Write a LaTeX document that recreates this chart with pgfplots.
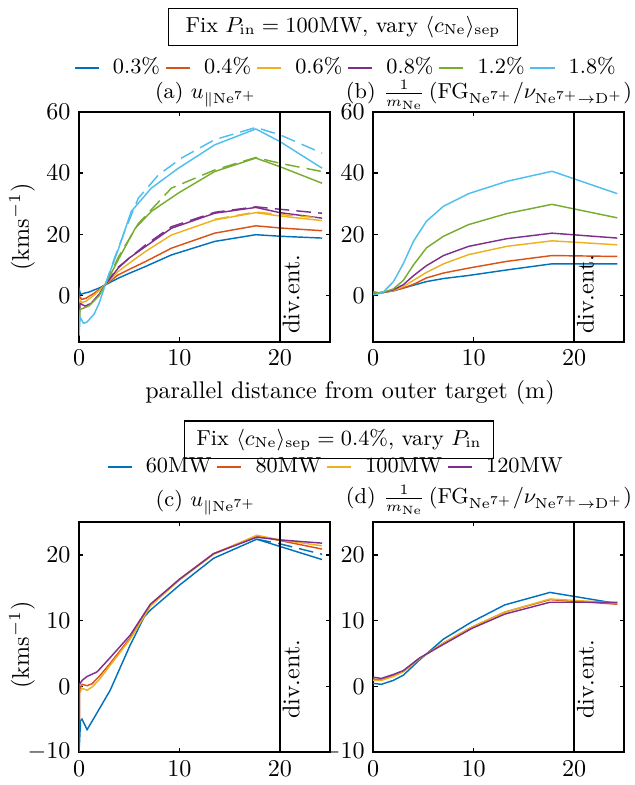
\documentclass[border=0pt]{standalone}
\usepackage{amsmath}
\usepackage{pgfplots}
\pgfplotsset{compat=1.18}
\definecolor{mB}{rgb}{0,0.447,0.741}
\definecolor{mR}{rgb}{0.85,0.325,0.098}
\definecolor{mY}{rgb}{0.929,0.694,0.125}
\definecolor{mP}{rgb}{0.494,0.184,0.556}
\definecolor{mG}{rgb}{0.466,0.674,0.188}
\definecolor{mC}{rgb}{0.301,0.745,0.933}
\pgfplotsset{
  myax/.style={
    scale only axis, width=104.2pt, height=95.4pt,
    xmin=0, xmax=25, xtick={0,10,20},
    axis line style={line width=0.7pt},
    tick style={line width=0.6pt, black},
    major tick length=1.8pt, tick align=inside,
    every axis plot/.append style={line width=0.6pt},
    legend image code/.code={\draw[#1,line width=0.8pt] (0pt,0pt) -- (10pt,0pt);},
  },
  topax/.style={myax, ymin=-15, ymax=60, ytick={0,20,40,60}},
  botax/.style={myax, ymin=-10, ymax=25, ytick={-10,0,10,20}},
  dl/.style={dash pattern=on 6pt off 3pt, forget plot},
}
\begin{document}
\begin{tikzpicture}
\useasboundingbox (0,0) rectangle (263.5pt,-325.8pt);
% (a)
\begin{axis}[topax, at={(32.8pt,-141.8pt)}, anchor=south west,
  legend columns=6,
  legend style={draw=none, fill=none, font=\small, at={(1.068,1.192)}, anchor=center,
    /tikz/every odd column/.append style={column sep=3.5pt}}]
\addplot[mB] coordinates {(0,-11.5)(0.04,1.8)(0.15,0.4)(0.5,0.8)(1,1.2)(2,2.5)(2.6,3.5)(3.9,5.7)(5,7.3)(6.6,9.5)(9.2,13.3)(13.5,17.7)(17.6,19.9)(20,19.4)(24.2,18.8)};
\addplot[mR] coordinates {(0,-10)(0.04,-0.3)(0.3,-1.2)(0.7,-0.8)(1.5,0.8)(2.6,3.5)(3.9,6.8)(5,8.6)(6.6,11.1)(9.2,15.5)(13.5,20.4)(17.6,22.8)(20,22.1)(24.2,21.2)};
\addplot[mY] coordinates {(0,-9)(0.04,-1.3)(0.3,-2.2)(0.7,-1.8)(1.5,0.2)(2.6,3.5)(3.9,7.9)(5,10.6)(6.6,14.4)(9.2,19.8)(13.5,24.7)(17.6,27.1)(20,26.0)(24.2,24.5)};
\addplot[mP] coordinates {(0,-8)(0.1,-2.5)(0.6,-3.4)(1.2,-2.5)(2,0.5)(2.6,3.5)(3.9,9)(5,12.3)(6.6,16)(9.2,22)(13.5,26.9)(17.6,28.8)(20,27.1)(24.2,25.3)};
\addplot[mG] coordinates {(0,-12)(0.1,-4.5)(0.5,-4)(1,-3.3)(2,0)(2.6,3.5)(3.9,11.7)(5.6,22)(7.2,27.5)(9.9,33.5)(13.5,40.5)(17.6,44.9)(20,42.1)(24.2,36.7)};
\addplot[mC] coordinates {(0,-13)(0.1,-7)(0.45,-9.0)(0.8,-8.6)(1.5,-6)(2,-2.5)(2.6,3.5)(3.9,15)(5.2,27.5)(7.2,35.1)(9.9,41.6)(13.5,49.2)(17.6,54.4)(20,50.3)(24.2,41.6)};
\addplot[mY,dl] coordinates {(13.5,24.9)(17.6,27.3)(20,26.5)(24.2,25.3)};
\addplot[mP,dl] coordinates {(2.6,3.5)(3.9,9.3)(6.6,16.5)(9.2,22.5)(13.5,27.2)(17.6,29.0)(20,28.2)(24.2,26.9)};
\addplot[mG,dl] coordinates {(2.6,3.5)(3.9,12.5)(5.9,23.5)(9.2,35.1)(13.5,41)(17.6,45.1)(20,43.2)(24.2,40.5)};
\addplot[mC,dl] coordinates {(2.6,3.5)(3.5,12)(4.6,21.5)(5.9,31.8)(7.9,39.4)(10.2,44.9)(13.5,50.9)(17.6,54.9)(20,52.5)(24.2,46.5)};
\addplot[black, line width=0.8pt, forget plot] coordinates {(20,-15)(20,60)};
\node[rotate=90, anchor=north west, inner sep=1pt] at (axis cs:20,-13.4) {div.ent.};
\legend{0.3\%,0.4\%,0.6\%,0.8\%,1.2\%,1.8\%}
\end{axis}
% (b)
\begin{axis}[topax, at={(154.9pt,-141.8pt)}, anchor=south west]
\addplot[mB] coordinates {(0,0.5)(0.5,0.8)(1,1.0)(2,1.6)(3,2.5)(4,3.4)(5.3,4.6)(7,5.6)(9.5,6.6)(13.3,8.4)(17.8,10.4)(24.3,10.4)};
\addplot[mR] coordinates {(0,0.8)(0.5,0.9)(1,1.1)(2,1.6)(3,2.5)(4,3.7)(5.3,5.8)(7,7.4)(9.5,9.0)(13.3,11.2)(17.8,13.1)(24.3,12.8)};
\addplot[mY] coordinates {(0,1.0)(0.5,0.9)(1,1.1)(2,1.7)(3,3.0)(4,5.0)(5.3,7.6)(7,10.4)(9.5,13.4)(13.3,16.1)(17.8,17.9)(24.3,16.6)};
\addplot[mP] coordinates {(0,1.1)(0.5,0.9)(1,1.1)(2,1.9)(3,3.6)(4,6.5)(5.3,9.8)(7,13.1)(9.5,16.1)(13.3,18.6)(17.8,20.4)(24.3,18.8)};
\addplot[mG] coordinates {(0,1.3)(0.5,1.0)(1,1.1)(2,2.2)(3,5)(4,10)(5.3,15.6)(7,19.4)(9.5,23.2)(13.3,26.8)(17.8,29.8)(24.3,25.4)};
\addplot[mC] coordinates {(0,0.3)(0.5,0.6)(1,1.2)(2,4.5)(3,10.5)(4,17.7)(5.3,24.3)(7,29.2)(9.5,33.3)(13.3,37.3)(17.8,40.6)(24.3,33.3)};
\addplot[black, line width=0.8pt, forget plot] coordinates {(20,-15)(20,60)};
\node[rotate=90, anchor=north west, inner sep=1pt] at (axis cs:20,-13.4) {div.ent.};
\end{axis}
% (c)
\begin{axis}[botax, at={(32.8pt,-312.1pt)}, anchor=south west,
  legend columns=4,
  legend style={draw=none, fill=none, font=\small, at={(1.028,1.239)}, anchor=center,
    /tikz/every odd column/.append style={column sep=3.5pt}}]
\addplot[mB] coordinates {(0,-10)(0.05,-8.5)(0.15,-5.2)(0.3,-5.0)(0.8,-6.6)(1.5,-4.8)(3.1,-0.6)(5.1,6.3)(6.5,10.6)(7.1,11.6)(10,15.4)(13.4,19.5)(17.7,22.4)(20,21.3)(24.2,19.3)};
\addplot[mR] coordinates {(0,-10)(0.05,-0.5)(0.3,0.3)(0.8,0.1)(1.3,0.4)(2,1.5)(3,3.3)(5.1,7.4)(7.1,12.3)(10,16.3)(13.4,20.2)(17.7,22.9)(20,22.2)(24.2,20.9)};
\addplot[mY] coordinates {(0,-10)(0.05,-1)(0.3,-0.3)(0.8,-0.6)(1.3,-0.1)(2,1.0)(3,3.0)(5.1,7.2)(7.1,12.2)(10,16.2)(13.4,20.1)(17.7,23.0)(20,22.3)(24.2,21.4)};
\addplot[mP] coordinates {(0,-10)(0.05,0.3)(0.3,0.9)(0.8,1.5)(1.8,2.2)(3,4.2)(5.1,7.8)(7.1,12.5)(10,16.3)(13.4,20.2)(17.7,22.7)(20,22.3)(24.2,21.8)};
\addplot[mB,dl] coordinates {(17.7,22.4)(20,21.7)(24.2,20.1)};
\addplot[black, line width=0.8pt, forget plot] coordinates {(20,-10)(20,25)};
\node[rotate=90, anchor=north west, inner sep=1pt] at (axis cs:20,-5.4) {div.ent.};
\legend{60MW,80MW,100MW,120MW}
\end{axis}
% (d)
\begin{axis}[botax, at={(154.9pt,-312.1pt)}, anchor=south west]
\addplot[mB] coordinates {(0,0.45)(0.3,0.4)(0.8,0.3)(2,0.9)(3,1.7)(4.6,4.0)(7,7.2)(9.8,9.8)(13.1,12.4)(17.6,14.3)(24.3,12.6)};
\addplot[mR] coordinates {(0,1.1)(0.8,1.0)(2,1.6)(3,2.3)(4.6,4.2)(7,6.6)(9.8,9.0)(13.1,11.3)(17.6,13.2)(24.3,12.5)};
\addplot[mY] coordinates {(0,0.9)(0.8,0.9)(2,1.5)(3,2.2)(4.6,4.2)(7,6.6)(9.8,9.0)(13.1,11.3)(17.6,13.3)(24.3,12.7)};
\addplot[mP] coordinates {(0,1.4)(0.8,1.2)(2,1.8)(3,2.4)(4.6,4.3)(7,6.4)(9.8,8.8)(13.1,11.0)(17.6,12.8)(24.3,12.8)};
\addplot[black, line width=0.8pt, forget plot] coordinates {(20,-10)(20,25)};
\node[rotate=90, anchor=north west, inner sep=1pt] at (axis cs:20,-5.4) {div.ent.};
\end{axis}
% texts
\node[draw, line width=0.5pt, font=\small, inner xsep=7pt, minimum height=15.5pt] at (343*0.415pt,-27*0.415pt)
  {Fix $P_{\mathrm{in}} = 100$MW, vary $\langle c_{\mathrm{Ne}}\rangle_{\mathrm{sep}}$};
\node[draw, line width=0.5pt, font=\small, inner xsep=5pt, minimum height=13.3pt] at (339*0.415pt,-440*0.415pt)
  {Fix $\langle c_{\mathrm{Ne}}\rangle_{\mathrm{sep}} = 0.4\%$, vary $P_{\mathrm{in}}$};
\node[font=\small] at (206*0.415pt,-95*0.415pt) {(a)~$u_{\parallel\mathrm{Ne}^{7+}}$};
\node[font=\small] at (489*0.415pt,-95*0.415pt) {(b) $\frac{1}{m_{\mathrm{Ne}}}\,(\mathrm{FG}_{\mathrm{Ne}^{7+}}/\nu_{\mathrm{Ne}^{7+}\to\mathrm{D}^+})$};
\node[font=\small] at (206*0.415pt,-503*0.415pt) {(c)~$u_{\parallel\mathrm{Ne}^{7+}}$};
\node[font=\small] at (489*0.415pt,-500*0.415pt) {(d) $\frac{1}{m_{\mathrm{Ne}}}\,(\mathrm{FG}_{\mathrm{Ne}^{7+}}/\nu_{\mathrm{Ne}^{7+}\to\mathrm{D}^+})$};
\node[rotate=90] at (22*0.415pt,-227*0.415pt) {(kms$^{-1}$)};
\node[rotate=90] at (22*0.415pt,-645*0.415pt) {(kms$^{-1}$)};
\node at (350*0.415pt,-393*0.415pt) {parallel distance from outer target (m)};
\end{tikzpicture}
\end{document}
